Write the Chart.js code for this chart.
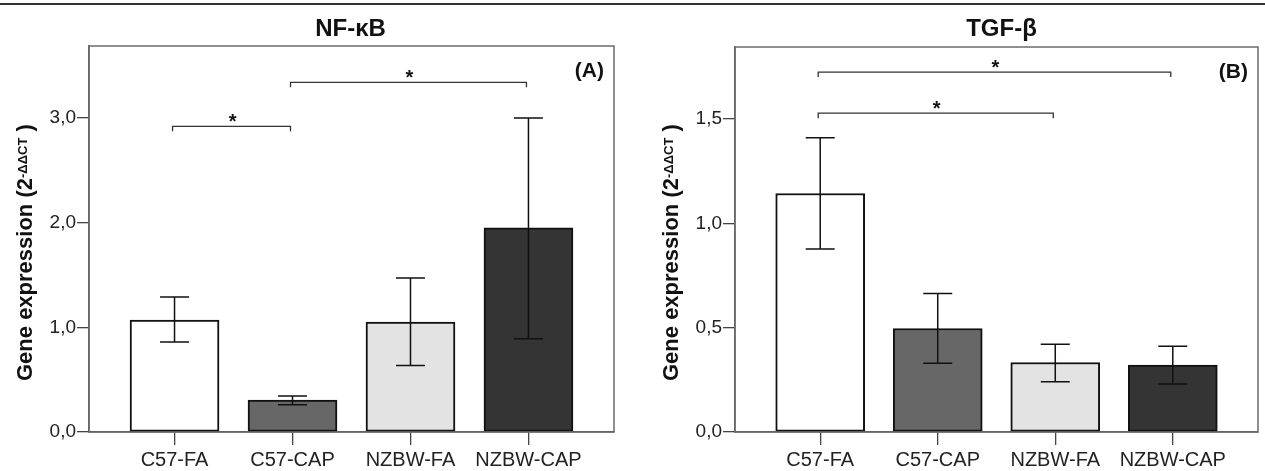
<!DOCTYPE html>
<html>
<head>
<meta charset="utf-8">
<script src="https://cdn.jsdelivr.net/npm/chart.js@4.4.1/dist/chart.umd.min.js"></script>
<style>
  body { margin: 0; background: #fff; width: 1265px; height: 471px; overflow: hidden; position: relative; }
  #topline { position: absolute; left: 0; top: 3px; width: 1265px; height: 2px; background: #333; }
  #wrapA { position: absolute; left: 0; top: 0; }
  #wrapB { position: absolute; left: 632px; top: 0; }
</style>
</head>
<body>
<div id="topline"></div>
<div id="wrapA"><canvas id="canvasA" width="632" height="471"></canvas></div>
<div id="wrapB"><canvas id="canvasB" width="633" height="471"></canvas></div>
<script>
// Donnees
const categories = ['C57-FA', 'C57-CAP', 'NZBW-FA', 'NZBW-CAP'];

// NF-kB (A)
const nfkbMean = [1.07, 0.306, 1.05, 1.95];
const nfkbLow  = [0.86, 0.26, 0.635, 0.89];
const nfkbHigh = [1.29, 0.344, 1.47, 3.0];
const nfkbTicks = [0, 1, 2, 3];
// [debut, fin, hauteur]
const nfkbBrackets = [[0, 1, 2.92], [1, 3, 3.34]];

// TGF-b (B)
const tgfMean = [1.143, 0.496, 0.333, 0.321];
const tgfLow  = [0.877, 0.329, 0.241, 0.230];
const tgfHigh = [1.41, 0.664, 0.421, 0.411];
const tgfTicks = [0, 0.5, 1.0, 1.5];
const tgfBrackets = [[0, 2, 1.528], [0, 3, 1.725]];

const FONT = "'Liberation Sans', Arial, sans-serif";
const barColors = ['#ffffff', '#676767', '#e3e3e3', '#343434'];

// plugin: barres d'erreur, crochets, titres, cadre
const decorPlugin = {
    id: 'decor',
    afterDatasetsDraw(chart, args, opts) {
        const ctx = chart.ctx;
        const xs = chart.scales.x, ys = chart.scales.y;
        ctx.save();
        ctx.strokeStyle = '#111';
        ctx.lineWidth = 1.5;
        opts.low.forEach((lo, i) => {
            const x = xs.getPixelForValue(i);
            const y1 = ys.getPixelForValue(lo);
            const y2 = ys.getPixelForValue(opts.high[i]);
            ctx.beginPath();
            ctx.moveTo(x, y1); ctx.lineTo(x, y2);
            ctx.moveTo(x - 14.5, y1); ctx.lineTo(x + 14.5, y1);
            ctx.moveTo(x - 14.5, y2); ctx.lineTo(x + 14.5, y2);
            ctx.stroke();
        });
        // crochets de significativite
        ctx.strokeStyle = '#333';
        ctx.lineWidth = 1.3;
        ctx.fillStyle = '#111';
        ctx.font = 'bold 20px ' + FONT;
        ctx.textAlign = 'center';
        ctx.textBaseline = 'alphabetic';
        opts.brackets.forEach(b => {
            const xa = xs.getPixelForValue(b[0]) - 2;
            const xb = xs.getPixelForValue(b[1]) - 2;
            const y = ys.getPixelForValue(b[2]);
            ctx.beginPath();
            ctx.moveTo(xa, y + 5); ctx.lineTo(xa, y); ctx.lineTo(xb, y); ctx.lineTo(xb, y + 5);
            ctx.stroke();
            ctx.fillText('*', (xa + xb) / 2 + 1, y + 2);
        });
        ctx.restore();
    },
    afterDraw(chart, args, opts) {
        const ctx = chart.ctx;
        const a = chart.chartArea;
        ctx.save();
        // cadre
        ctx.strokeStyle = '#6b6b6b';
        ctx.lineWidth = 1.5;
        ctx.strokeRect(a.left, a.top, a.right - a.left, a.bottom - a.top);
        // titre
        ctx.fillStyle = '#111';
        ctx.font = 'bold 24px ' + FONT;
        ctx.textAlign = 'center';
        ctx.textBaseline = 'middle';
        ctx.fillText(opts.title, (a.left + a.right) / 2 + opts.titleShift, 29);
        // lettre du panneau
        ctx.font = 'bold 21px ' + FONT;
        ctx.textAlign = 'right';
        ctx.fillText(opts.letter, a.right - 10, a.top + 25);
        // titre axe y avec exposant
        ctx.translate(a.left - 57, 381);
        ctx.rotate(-Math.PI / 2);
        ctx.textAlign = 'left';
        ctx.textBaseline = 'alphabetic';
        ctx.font = 'bold 22px ' + FONT;
        let t = 'Gene expression (2';
        ctx.fillText(t, 0, 0);
        let x = ctx.measureText(t).width;
        ctx.font = 'bold 13px ' + FONT;
        ctx.fillText('-\u0394\u0394CT', x, -5);
        x += ctx.measureText('-\u0394\u0394CT').width;
        ctx.font = 'bold 22px ' + FONT;
        ctx.fillText(' )', x, 0);
        ctx.restore();
    }
};

function makeConfig(mean, low, high, ticks, brackets, yMax, title, letter, axisWidth, padRight, padTop, titleShift) {
    return {
        type: 'bar',
        data: {
            datasets: [{
                data: mean.map((v, i) => ({x: i, y: v})),
                backgroundColor: barColors,
                borderColor: '#111',
                borderWidth: 2,
                borderSkipped: false,
                barThickness: 89
            }]
        },
        options: {
            responsive: false,
            animation: false,
            layout: { padding: { left: 0, right: padRight, top: padTop, bottom: 0 } },
            plugins: {
                legend: { display: false },
                title: { display: false },
                tooltip: { enabled: false },
                decor: { low: low, high: high, brackets: brackets, title: title, letter: letter, titleShift: titleShift }
            },
            scales: {
                x: {
                    type: 'linear',
                    offset: false,
                    min: -0.725,
                    max: 3.725,
                    afterBuildTicks: s => { s.ticks = categories.map((c, i) => ({value: i})); },
                    afterFit: s => { s.height = 39; },
                    grid: { offset: false, drawOnChartArea: false, drawTicks: true, tickLength: 13, color: '#444', lineWidth: 1.3 },
                    border: { display: true, color: '#555', width: 1.5 },
                    ticks: {
                        autoSkip: false, maxRotation: 0, padding: 3,
                        color: '#222',
                        font: { family: FONT, size: 20 },
                        callback: v => categories[v]
                    }
                },
                y: {
                    min: 0,
                    max: yMax,
                    afterBuildTicks: s => { s.ticks = ticks.map(v => ({value: v})); },
                    afterFit: s => { s.width = axisWidth; },
                    grid: { drawOnChartArea: false, drawTicks: true, tickLength: 12, color: '#444', lineWidth: 1.3 },
                    border: { display: true, color: '#555', width: 1.5 },
                    ticks: {
                        padding: 1,
                        color: '#222',
                        font: { family: FONT, size: 19 },
                        callback: v => v.toFixed(1).replace('.', ',')
                    }
                }
            }
        },
        plugins: [decorPlugin]
    };
}

let chartA = new Chart(document.getElementById('canvasA'),
    makeConfig(nfkbMean, nfkbLow, nfkbHigh, nfkbTicks, nfkbBrackets, 3.687, 'NF-\u03baB', '(A)', 89, 18, 46, -1));

let chartB = new Chart(document.getElementById('canvasB'),
    makeConfig(tgfMean, tgfLow, tgfHigh, tgfTicks, tgfBrackets, 1.845, 'TGF-\u03b2', '(B)', 103, 7, 47, 5));
</script>
</body>
</html>
